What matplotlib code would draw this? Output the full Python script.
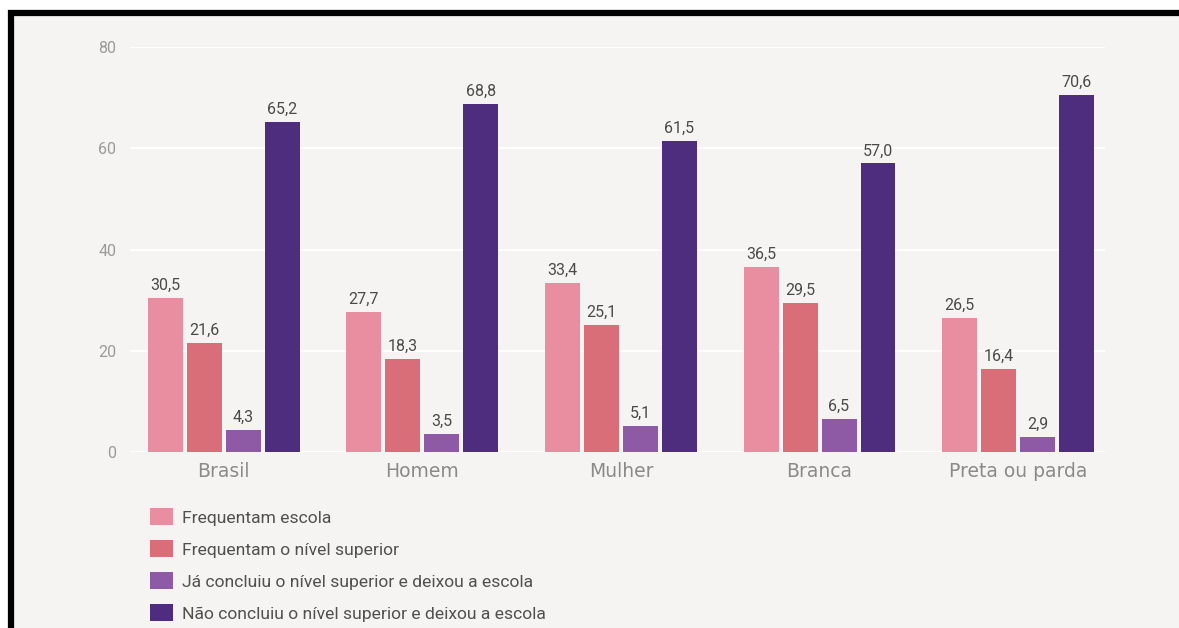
import numpy as np
import matplotlib.pyplot as plt
from matplotlib.patches import Rectangle

plt.rcParams['font.family'] = ['Roboto', 'DejaVu Sans']

categorias = ['Brasil', 'Homem', 'Mulher', 'Branca', 'Preta ou parda']
series = [
    'Frequentam escola',
    'Frequentam o nível superior',
    'Já concluiu o nível superior e deixou a escola',
    'Não concluiu o nível superior e deixou a escola',
]
frequentam_escola = [30.5, 27.7, 33.4, 36.5, 26.5]
frequentam_superior = [21.6, 18.3, 25.1, 29.5, 16.4]
concluiu_superior = [4.3, 3.5, 5.1, 6.5, 2.9]
nao_concluiu = [65.2, 68.8, 61.5, 57.0, 70.6]
valores = [frequentam_escola, frequentam_superior, concluiu_superior, nao_concluiu]
cores = ['#e98ea1', '#d96e78', '#8e5aa6', '#4e2c7e']
bg = '#f5f4f2'

fig = plt.figure(figsize=(11.79, 6.28), dpi=100, facecolor='white')
W, H = 1179, 628
# frame with black border on top and left
fig.patches.append(Rectangle((11 / W, -0.1), 1.2, 1 - 13 / H + 0.1,
                             transform=fig.transFigure, facecolor=bg,
                             edgecolor='black', linewidth=4.5, zorder=-5))

ax = fig.add_axes([130 / W, 1 - 452 / H, (1105 - 130) / W, (452 - 47) / H])
ax.set_facecolor('none')

x = np.arange(len(categorias))
largura = 0.176
passo = 0.196
barras = []
for i, (vals, cor, nome) in enumerate(zip(valores, cores, series)):
    pos = x + (i - 1.5) * passo
    b = ax.bar(pos, vals, largura, color=cor, label=nome, zorder=3)
    barras.append(b)
    for px, v in zip(pos, vals):
        ax.text(px, v + 1.0, f'{v:.1f}'.replace('.', ','), ha='center', va='bottom',
                fontsize=11.5, color='#4a4a4a', zorder=4)

ax.set_ylim(0, 80)
ax.set_xlim(-0.472, 4.437)
ax.set_yticks([0, 20, 40, 60, 80])
ax.grid(axis='y', color='white', linewidth=1.5, zorder=1)
ax.set_axisbelow(True)
for s in ax.spines.values():
    s.set_visible(False)
ax.tick_params(axis='y', length=0, pad=10, labelsize=11.5, labelcolor='#9a9a9a')
ax.tick_params(axis='x', length=0, pad=7, labelcolor='#8a8a8a')
ax.set_xticks(x)
ax.set_xticklabels(categorias, fontfamily='DejaVu Sans', fontsize=13.5)

leg = fig.legend(handles=barras, labels=series, loc='upper left',
                 bbox_to_anchor=(150 / W, 1 - 508 / H), frameon=False,
                 fontsize=12.6, labelcolor='#505050', handlelength=1.3,
                 handleheight=1.15, labelspacing=0.82, handletextpad=0.55,
                 borderpad=0, borderaxespad=0)

fig.savefig('out.png', dpi=100, facecolor='white')
